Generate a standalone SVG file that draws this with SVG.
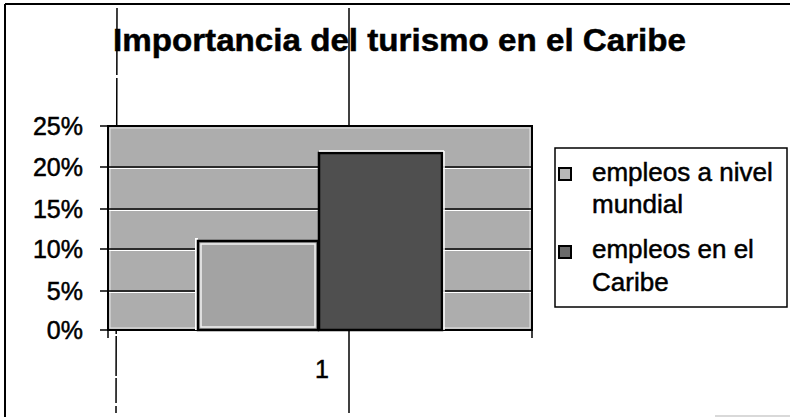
<svg xmlns="http://www.w3.org/2000/svg" width="790" height="417" viewBox="0 0 790 417">
<style>
.t{font-family:"Liberation Sans",Arial,sans-serif;fill:#000;stroke:#000;stroke-width:0.5}
.ax{font-size:25px;text-anchor:end}
.lg{font-size:26px}
.grid{stroke:#000;stroke-width:1.5}
.gridw{stroke:#fff;stroke-width:1}
.tick{stroke:#000;stroke-width:1.5}
.scan{stroke:#000;stroke-width:1.5;fill:none}
</style>
<rect x="0" y="0" width="790" height="417" fill="#fff"/>
<g id="frame">
<line x1="5" y1="4" x2="790" y2="4" stroke="#000" stroke-width="2"/>
<line x1="5" y1="4" x2="5" y2="417" stroke="#000" stroke-width="2"/>
<line x1="715" y1="416" x2="790" y2="416" stroke="#ccc" stroke-width="1.5"/>
</g>
<g id="scan-lines">
<line class="scan" x1="117" y1="8" x2="116" y2="413" stroke-dasharray="40 2 25 3 60 2 30 2"/>
<line class="scan" x1="349" y1="8" x2="349" y2="413"/>
</g>
<g id="title">
<text class="t" x="113" y="51" font-size="32" font-weight="bold" stroke-width="0.3" textLength="573" lengthAdjust="spacingAndGlyphs">Importancia del turismo en el Caribe</text>
</g>
<g id="plot-area">
<rect x="108" y="126" width="424" height="204" fill="#adadad" stroke="#000" stroke-width="2"/>
<rect x="110" y="128" width="420" height="200" fill="none" stroke="#e6e6e6" stroke-width="1"/>
<line class="grid" x1="108" y1="167" x2="532" y2="167"/><line class="gridw" x1="109" y1="168.5" x2="531" y2="168.5"/>
<line class="grid" x1="108" y1="209" x2="532" y2="209"/><line class="gridw" x1="109" y1="210.5" x2="531" y2="210.5"/>
<line class="grid" x1="108" y1="249" x2="532" y2="249"/><line class="gridw" x1="109" y1="250.5" x2="531" y2="250.5"/>
<line class="grid" x1="108" y1="291" x2="532" y2="291"/><line class="gridw" x1="109" y1="292.5" x2="531" y2="292.5"/>
</g>
<g id="axis">
<line class="tick" x1="100" y1="126" x2="108" y2="126"/>
<line class="tick" x1="100" y1="167" x2="108" y2="167"/>
<line class="tick" x1="100" y1="209" x2="108" y2="209"/>
<line class="tick" x1="100" y1="249" x2="108" y2="249"/>
<line class="tick" x1="100" y1="291" x2="108" y2="291"/>
<line class="tick" x1="100" y1="330" x2="108" y2="330"/>
<line class="tick" x1="108" y1="330" x2="108" y2="338"/>
<line class="tick" x1="532" y1="330" x2="532" y2="338"/>
<text class="t ax" x="83" y="135">25%</text>
<text class="t ax" x="83" y="176">20%</text>
<text class="t ax" x="83" y="218">15%</text>
<text class="t ax" x="83" y="258">10%</text>
<text class="t ax" x="83" y="300">5%</text>
<text class="t ax" x="83" y="339">0%</text>
<text class="t" x="322" y="378" font-size="25" text-anchor="middle">1</text>
</g>
<g id="bar-mundial">
<rect x="195" y="238" width="3" height="92" fill="#fff"/>
<rect x="198" y="241" width="120" height="89" fill="#a3a3a3" stroke="#000" stroke-width="2.5"/>
<rect x="201" y="244" width="114" height="83" fill="none" stroke="#f2f2f2" stroke-width="1.5"/>
</g>
<g id="bar-caribe">
<rect x="319" y="153" width="123" height="177" fill="#4f4f4f" stroke="#000" stroke-width="2.5"/>
<line x1="319" y1="151" x2="444" y2="151" stroke="#fff" stroke-width="1.5"/>
<line x1="444" y1="151" x2="444" y2="330" stroke="#fff" stroke-width="1.5"/>
</g>
<g id="legend">
<rect x="555" y="148" width="232" height="159" fill="#fff" stroke="#000" stroke-width="1.5"/>
<rect x="559" y="168" width="12" height="12" fill="#b8b8b8" stroke="#000" stroke-width="2"/>
<text class="t lg" x="592" y="181">empleos a nivel</text>
<text class="t lg" x="592" y="213">mundial</text>
<rect x="559" y="246" width="12" height="12" fill="#6a6a6a" stroke="#000" stroke-width="2"/>
<text class="t lg" x="592" y="258">empleos en el</text>
<text class="t lg" x="592" y="291">Caribe</text>
</g>
</svg>
